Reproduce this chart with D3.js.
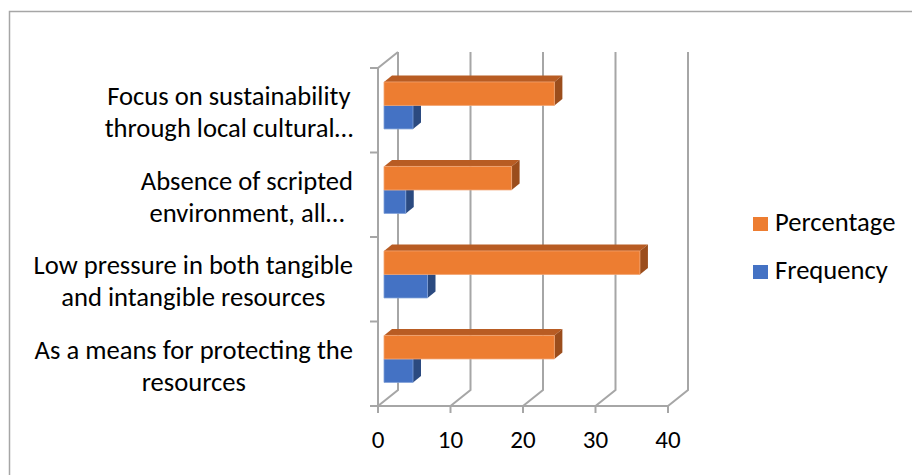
<!DOCTYPE html>
<html>
<head>
<meta charset="utf-8">
<script src="https://cdn.jsdelivr.net/npm/d3@7"></script>
<style>
  body { margin: 0; background: #fff; }
  svg text { font-family: Carlito, Calibri, Lato, sans-serif; fill: #000; }
</style>
</head>
<body>
<svg id="chart" width="912" height="475"></svg>
<script>
// data
var categories = [
  ["Focus on sustainability", "through local cultural\u2026"],
  ["Absence of scripted", "environment, all\u2026"],
  ["Low pressure in both tangible", "and intangible resources"],
  ["As a means for protecting the", "resources"]
];
var percentage = [23.5, 17.6, 35.3, 23.5];
var frequency = [4, 3, 6, 4];
var xTicks = [0, 10, 20, 30, 40];
var seriesNames = ["Percentage", "Frequency"];

var App = {};

App.main = function() {
  App.svg = d3.select('#chart');
  App.depth = { dx: 20, dy: -16 };

  App.x = d3.scaleLinear().domain([0, 40]).range([378, 668]);
  App.y = d3.scaleBand().domain(d3.range(categories.length)).range([68, 406]);

  // chart area border (left and top only are visible)
  App.svg.append('path')
    .attr('d', 'M9.5,475V11.5H912')
    .attr('fill', 'none')
    .attr('stroke', '#a6a6a6')
    .attr('stroke-width', 1.5);

  App.drawWalls();
  App.drawBars();
  App.drawLabels();
  App.drawLegend();
}

// project a point: value, front-plane y, depth fraction (0 front, 1 back)
App.p = function(v, y, t) {
  return [App.x(v) + App.depth.dx * t, y + App.depth.dy * t];
}

App.drawWalls = function() {
  var g = App.svg.append('g')
    .attr('fill', 'none')
    .attr('stroke', '#a6a6a6')
    .attr('stroke-width', 2);
  var y0 = App.y.range()[0], y1 = App.y.range()[1];
  var line = d3.line();

  // back wall gridlines + floor diagonals
  xTicks.forEach(function(v) {
    g.append('path').attr('d', line([App.p(v, y1, 0), App.p(v, y1, 1), App.p(v, y0, 1)]));
  });
  // left wall
  g.append('path').attr('d', line([App.p(0, y1, 0), App.p(0, y0, 0), App.p(0, y0, 1)]));
  // floor front edge with ticks
  g.append('path').attr('d', line([App.p(0, y1, 0), App.p(40, y1, 0)]));
  xTicks.forEach(function(v) {
    g.append('path').attr('d', line([[App.x(v), y1], [App.x(v), y1 + 7]]));
  });
  // category ticks on left
  d3.range(categories.length + 1).forEach(function(i) {
    var yy = i < categories.length ? App.y(i) : y1;
    g.append('path').attr('d', line([[App.x(0) - 8, yy], [App.x(0), yy]]));
  });

  App.svg.append('g').selectAll('text').data(xTicks)
    .enter().append('text')
    .attr('x', function(d) { return App.x(d); })
    .attr('y', 448)
    .attr('text-anchor', 'middle')
    .attr('font-size', 25)
    .text(function(d) { return d; });
}

App.drawBars = function() {
  var bh = 23.5, t0 = 0.3, t1 = 0.7;
  var styles = {
    Percentage: { front: '#ed7d31', top: '#b85c23', side: '#9b4d1c', edge: '#f3a472' },
    Frequency: { front: '#4472c4', top: '#35599a', side: '#2b4a80', edge: '#7f9fd8' }
  };
  var bars = [];
  // bottom category first, blue under orange, so nearer faces paint last
  for (var i = categories.length - 1; i >= 0; i--) {
    var c = App.y(i) + App.y.bandwidth() / 2;
    bars.push({ s: 'Frequency', v: frequency[i], top: c, bottom: c + bh });
    bars.push({ s: 'Percentage', v: percentage[i], top: c - bh, bottom: c });
  }
  var line = d3.line();
  var g = App.svg.append('g');
  bars.forEach(function(b) {
    var st = styles[b.s];
    var f = [App.p(0, b.top, t0), App.p(b.v, b.top, t0), App.p(b.v, b.bottom, t0), App.p(0, b.bottom, t0)];
    var tp = [App.p(0, b.top, t0), App.p(b.v, b.top, t0), App.p(b.v, b.top, t1), App.p(0, b.top, t1)];
    var sd = [App.p(b.v, b.top, t0), App.p(b.v, b.top, t1), App.p(b.v, b.bottom, t1), App.p(b.v, b.bottom, t0)];
    g.append('path').attr('d', line(tp) + 'Z').attr('fill', st.top);
    g.append('path').attr('d', line(sd) + 'Z').attr('fill', st.side);
    g.append('path').attr('d', line(f) + 'Z').attr('fill', st.front)
      .attr('stroke', st.edge).attr('stroke-width', 0.8);
  });
}

App.drawLabels = function() {
  var right = 353;
  var g = App.svg.append('g').attr('font-size', 26.6);
  categories.forEach(function(lines, i) {
    var c = App.y(i) + App.y.bandwidth() / 2;
    var block = g.append('g');
    var texts = lines.map(function(s, k) {
      return block.append('text')
        .attr('y', c - 5 + k * 32)
        .attr('text-anchor', 'middle')
        .text(s);
    });
    var w = d3.max(texts, function(t) { return t.node().getComputedTextLength(); });
    texts.forEach(function(t) { t.attr('x', right - w / 2); });
  });
}

App.drawLegend = function() {
  var colors = ['#ed7d31', '#4472c4'];
  var g = App.svg.append('g').selectAll('g').data(seriesNames)
    .enter().append('g')
    .attr('transform', function(d, i) { return 'translate(753,' + (217 + i * 48) + ')'; });
  g.append('rect').attr('width', 15).attr('height', 14)
    .attr('fill', function(d, i) { return colors[i]; });
  g.append('text').attr('x', 22).attr('y', 14).attr('font-size', 26.6)
    .text(function(d) { return d; });
}

App.main();
</script>
</body>
</html>
